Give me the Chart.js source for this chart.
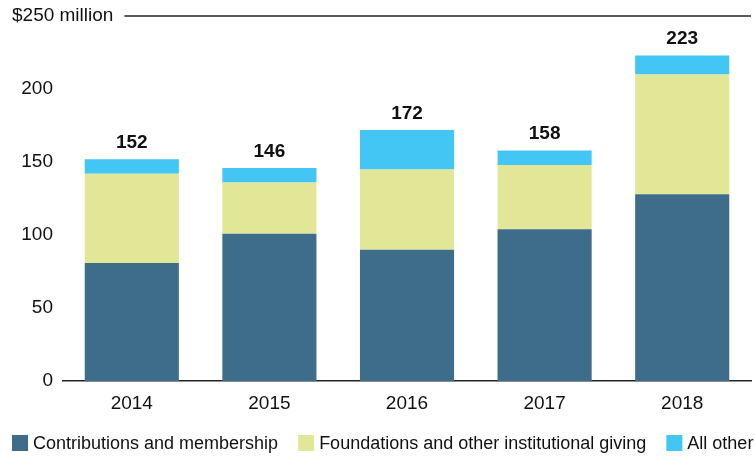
<!DOCTYPE html>
<html>
<head>
<meta charset="utf-8">
<script src="https://cdn.jsdelivr.net/npm/chart.js@4/dist/chart.umd.min.js"></script>
<style>
  html, body { margin: 0; padding: 0; background: #fff; }
  #wrap { width: 755px; height: 456px; }
</style>
</head>
<body>
<div id="wrap"><canvas id="c"></canvas></div>
<script>
const years = ['2014', '2015', '2016', '2017', '2018'];
const contributions = [81, 101, 90, 104, 128];
const foundations = [61, 35, 55, 44, 82];
const allOther = [10, 10, 27, 10, 13];
const totals = [152, 146, 172, 158, 223];
const yTicks = [0, 50, 100, 150, 200, 250];
const topTickLabel = '$250 million';

const FONT = '"Liberation Sans", Arial, Helvetica, sans-serif';

// top gridline with the unit label on its left
const topLinePlugin = {
  id: 'topLine',
  afterDraw(chart) {
    const { ctx, chartArea, scales } = chart;
    const y = scales.y.getPixelForValue(yTicks[yTicks.length - 1]);
    ctx.save();
    ctx.font = '19px ' + FONT;
    ctx.fillStyle = '#111';
    ctx.textAlign = 'left';
    ctx.textBaseline = 'middle';
    ctx.fillText(topTickLabel, 12, y);
    const w = ctx.measureText(topTickLabel).width;
    ctx.strokeStyle = '#222';
    ctx.lineWidth = 1.5;
    ctx.beginPath();
    ctx.moveTo(12 + w + 11, y);
    ctx.lineTo(chartArea.right, y);
    ctx.stroke();
    ctx.restore();
  }
};

// bold totals above each stack
const totalsPlugin = {
  id: 'totals',
  afterDatasetsDraw(chart) {
    const { ctx, scales } = chart;
    ctx.save();
    ctx.font = 'bold 19px ' + FONT;
    ctx.fillStyle = '#111';
    ctx.textAlign = 'center';
    ctx.textBaseline = 'bottom';
    totals.forEach((t, i) => {
      const x = scales.x.getPixelForValue(i);
      const y = scales.y.getPixelForValue(t);
      ctx.fillText(String(t), x, y - 7);
    });
    ctx.restore();
  }
};

// single-row legend along the bottom edge
const legendPlugin = {
  id: 'rowLegend',
  afterDraw(chart) {
    const { ctx } = chart;
    ctx.save();
    ctx.font = '18px ' + FONT;
    ctx.textAlign = 'left';
    ctx.textBaseline = 'middle';
    let x = 12;
    const y = 443;
    chart.data.datasets.forEach(ds => {
      ctx.fillStyle = ds.backgroundColor;
      ctx.fillRect(x, y - 8, 16, 16);
      ctx.fillStyle = '#111';
      ctx.fillText(ds.label, x + 21, y + 1);
      x += 21 + ctx.measureText(ds.label).width + 20;
    });
    ctx.restore();
  }
};

new Chart(document.getElementById('c'), {
  type: 'bar',
  data: {
    labels: years,
    datasets: [
      { label: 'Contributions and membership', data: contributions, backgroundColor: '#3d6d8a' },
      { label: 'Foundations and other institutional giving', data: foundations, backgroundColor: '#e1e797' },
      { label: 'All other', data: allOther, backgroundColor: '#43c6f3' },
    ],
  },
  options: {
    responsive: true,
    maintainAspectRatio: false,
    animation: false,
    layout: { padding: { top: 16, right: 4, left: 0, bottom: 38 } },
    datasets: { bar: { barPercentage: 0.684, categoryPercentage: 1 } },
    plugins: {
      legend: { display: false },
      tooltip: { enabled: false },
    },
    scales: {
      x: {
        stacked: true,
        grid: { display: false },
        border: { display: true, color: '#222', width: 1.5 },
        ticks: { color: '#111', font: { family: FONT, size: 19 }, padding: 3 },
      },
      y: {
        stacked: true,
        min: 0,
        max: 250,
        afterBuildTicks(scale) { scale.ticks = yTicks.map(v => ({ value: v })); },
        afterFit(scale) { scale.width = 63; },
        grid: { display: false },
        border: { display: false },
        ticks: {
          color: '#111',
          font: { family: FONT, size: 19 },
          padding: 2,
          callback: v => (v === 250 ? '' : v),
        },
      },
    },
  },
  plugins: [topLinePlugin, totalsPlugin, legendPlugin],
});
</script>
</body>
</html>
